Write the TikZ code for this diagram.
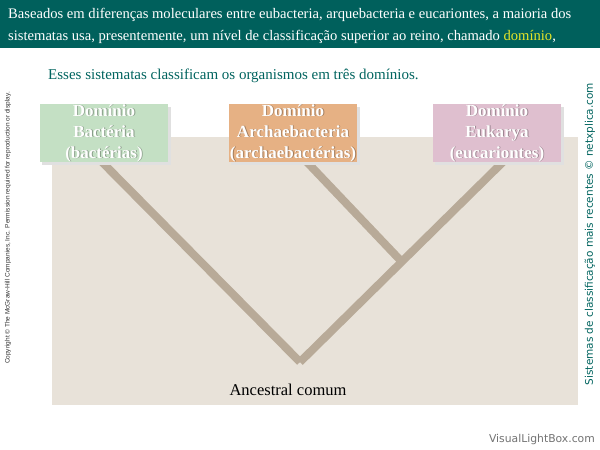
\documentclass[tikz,border=0pt]{standalone}
\usepackage{fontspec}
\setmainfont{Liberation Serif}
\newfontfamily\dejasans{DejaVu Sans}
\newfontfamily\libsans{Liberation Sans}
\definecolor{banner}{RGB}{0,96,92}
\definecolor{teal2}{RGB}{0,100,95}
\definecolor{beige}{RGB}{232,226,217}
\definecolor{branch}{RGB}{184,170,152}
\definecolor{gbox}{RGB}{196,224,196}
\definecolor{obox}{RGB}{230,177,132}
\definecolor{pbox}{RGB}{223,191,207}
\definecolor{yel}{RGB}{230,230,40}
\begin{document}
\begin{tikzpicture}[x=1pt,y=-1pt,
  dombox/.style={minimum width=128pt,minimum height=58pt,inner sep=0pt,align=center,
    font=\fontsize{17}{21}\selectfont\bfseries,text=white},
  domshadow/.style={inner sep=0pt,align=center,
    font=\fontsize{17}{21}\selectfont\bfseries,text=black,opacity=0.3},
  boxshadow/.style={fill=black!12},
  br/.style={draw=branch,line width=8pt}]
\useasboundingbox (0,0) rectangle (600,450);
\fill[white] (0,0) rectangle (600,450);
% banner
\fill[banner] (0,0) rectangle (600,48);
\node[anchor=west,text=white,font=\fontsize{14.6}{16}\selectfont,inner sep=0pt] (l1) at (8,15)
  {Baseados em diferenças moleculares entre eubacteria, arquebacteria e eucariontes, a maioria dos};
\node[anchor=west,text=white,font=\fontsize{14.6}{16}\selectfont,inner sep=0pt] (l2) at (8,37)
  {sistematas usa, presentemente, um nível de classificação superior ao reino, chamado \textcolor{yel}{domínio},};
\node[anchor=west,text=teal2,font=\fontsize{15}{16}\selectfont,inner sep=0pt] (sub) at (48,76)
  {Esses sistematas classificam os organismos em três domínios.};
% beige panel
\fill[beige] (52,137) rectangle (578,405);
% tree
\coordinate (root) at (300,362);
\coordinate (j) at (402,262);
\coordinate (tb) at (100,160);
\coordinate (ta) at (305,160);
\coordinate (te) at (505,160);
\draw[br] (tb) -- (root);
\draw[br] (te) -- (root);
\draw[br] (ta) -- (j);
% boxes
\fill[boxshadow] (42,107) rectangle (171,165);
\fill[boxshadow] (231,107) rectangle (360,165);
\fill[boxshadow] (435,107) rectangle (564,165);
\node[dombox,fill=gbox] (bac) at (104,133) {};
\node[dombox,fill=obox] (arc) at (293,133) {};
\node[dombox,fill=pbox] (euk) at (497,133) {};
\node[domshadow] (bacs) at (104.9,133.9) {Domínio\\Bactéria\\(bactérias)};
\node[domshadow] (arcs) at (293.9,133.9) {Domínio\\Archaebacteria\\(archaebactérias)};
\node[domshadow] (euks) at (497.9,133.9) {Domínio\\Eukarya\\(eucariontes)};
\node[dombox] (bact) at (bac) {Domínio\\Bactéria\\(bactérias)};
\node[dombox] (arct) at (arc) {Domínio\\Archaebacteria\\(archaebactérias)};
\node[dombox] (eukt) at (euk) {Domínio\\Eukarya\\(eucariontes)};
\node[font=\fontsize{16.5}{18}\selectfont,inner sep=0pt] (anc) at (288,390) {Ancestral comum};
% side texts
\node[rotate=90,font=\libsans\fontsize{6.5}{7}\selectfont,text=black!80,inner sep=0pt] (copy) at (8,228)
  {Copyright © The McGraw-Hill Companies, Inc. Permission required for reproduction or display.};
\node[rotate=90,font=\dejasans\fontsize{10.5}{12}\selectfont,text=teal2,inner sep=0pt] (side) at (590,234)
  {Sistemas de classificação mais recentes © netxplica.com};
\node[anchor=east,font=\dejasans\fontsize{10.8}{12}\selectfont,text=black!55,inner sep=0pt] (vlb) at (595,440)
  {VisualLightBox.com};
\end{tikzpicture}
\end{document}
